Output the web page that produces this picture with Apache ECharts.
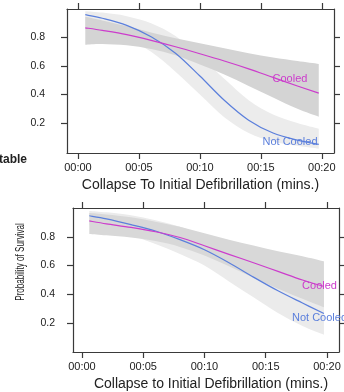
<!DOCTYPE html>
<html>
<head>
<meta charset="utf-8">
<script src="https://cdn.jsdelivr.net/npm/echarts@6/dist/echarts.min.js"></script>
<style>
  html, body { margin: 0; padding: 0; background: #fff; }
  #chart { width: 344px; height: 392px; }
</style>
</head>
<body>
<div id="chart"></div>
<script>
// minutes from collapse to first shock, shared by both panels
const minutes = [0.6, 2, 4, 6, 8, 10, 12, 14, 16, 18, 19.75];
const xTickValues = [0, 5, 10, 15, 20];
const xTickLabels = ["00:00", "00:05", "00:10", "00:15", "00:20"];
const yTickValues = [0.2, 0.4, 0.6, 0.8];

// upper panel
const topNotCooled = [0.96, 0.935, 0.885, 0.805, 0.69, 0.53, 0.36, 0.22, 0.13, 0.08, 0.05];
const topNotCooledUpper = [0.985, 0.975, 0.95, 0.9, 0.81, 0.67, 0.51, 0.36, 0.26, 0.2, 0.16];
const topNotCooledLower = [0.86, 0.84, 0.79, 0.7, 0.56, 0.4, 0.24, 0.13, 0.07, 0.04, 0.02];
const topCooled = [0.868, 0.85, 0.82, 0.78, 0.735, 0.686, 0.635, 0.58, 0.52, 0.46, 0.41];
const topCooledUpper = [0.945, 0.92, 0.88, 0.835, 0.795, 0.76, 0.725, 0.69, 0.66, 0.635, 0.615];
const topCooledLower = [0.75, 0.755, 0.745, 0.72, 0.675, 0.61, 0.54, 0.46, 0.38, 0.3, 0.245];

// lower panel
const botNotCooled = [0.946, 0.925, 0.885, 0.84, 0.78, 0.71, 0.62, 0.52, 0.425, 0.34, 0.267];
const botNotCooledUpper = [0.98, 0.97, 0.95, 0.915, 0.87, 0.81, 0.73, 0.64, 0.56, 0.49, 0.44];
const botNotCooledLower = [0.88, 0.86, 0.81, 0.75, 0.68, 0.6, 0.49, 0.38, 0.27, 0.18, 0.12];
const botCooled = [0.91, 0.89, 0.865, 0.835, 0.795, 0.738, 0.678, 0.62, 0.56, 0.5, 0.455];
const botCooledUpper = [0.965, 0.955, 0.935, 0.905, 0.87, 0.825, 0.78, 0.74, 0.7, 0.665, 0.63];
const botCooledLower = [0.82, 0.81, 0.795, 0.77, 0.73, 0.67, 0.595, 0.515, 0.44, 0.37, 0.31];

const FONT = "Liberation Sans, Arial, Helvetica, sans-serif";
const FRAME = "#3a3a3a";
const BLUE = "#5b7fdc";
const PINK = "#cc3ccc";

const pairs = (ys) => ys.map((y, i) => [minutes[i], y]);

// catmull-rom through screen points -> svg path segments
function smoothSeg(p) {
  let d = "";
  for (let i = 0; i < p.length - 1; i++) {
    const p0 = p[Math.max(i - 1, 0)], p1 = p[i], p2 = p[i + 1], p3 = p[Math.min(i + 2, p.length - 1)];
    const c1 = [p1[0] + (p2[0] - p0[0]) / 6, p1[1] + (p2[1] - p0[1]) / 6];
    const c2 = [p2[0] - (p3[0] - p1[0]) / 6, p2[1] - (p3[1] - p1[1]) / 6];
    d += "C" + c1[0] + "," + c1[1] + " " + c2[0] + "," + c2[1] + " " + p2[0] + "," + p2[1];
  }
  return d;
}

function band(idx, upper, lower, color) {
  return {
    type: "custom", xAxisIndex: idx * 2, yAxisIndex: idx * 2,
    data: [[minutes[0], upper[0]]], silent: true, clip: true,
    renderItem: (params, api) => {
      const up = upper.map((v, i) => api.coord([minutes[i], v]));
      const lo = lower.map((v, i) => api.coord([minutes[i], v])).reverse();
      const d = "M" + up[0][0] + "," + up[0][1] + smoothSeg(up) +
        "L" + lo[0][0] + "," + lo[0][1] + smoothSeg(lo) + "Z";
      return { type: "path", shape: { pathData: d }, style: { fill: color } };
    },
  };
}

// mean curve drawn on the same spline as the bands
function curve(idx, ys, color, labels) {
  return {
    type: "custom", xAxisIndex: idx * 2, yAxisIndex: idx * 2,
    data: [[minutes[0], ys[0]]], silent: true, clip: true,
    renderItem: (params, api) => {
      const p = ys.map((v, i) => api.coord([minutes[i], v]));
      return {
        type: "path", shape: { pathData: "M" + p[0][0] + "," + p[0][1] + smoothSeg(p) },
        style: { fill: null, stroke: color, lineWidth: 1.2 },
      };
    },
    markPoint: {
      symbol: "circle", symbolSize: 0, silent: true,
      label: { show: true, position: "inside", color: color, fontSize: 11, fontFamily: FONT },
      data: labels,
    },
  };
}

function xAxes(idx, min, max, title, gap, shift) {
  const base = {
    gridIndex: idx, type: "value", min: min, max: max,
    axisLine: { show: true, onZero: false, lineStyle: { color: FRAME, width: 1.2 } },
    axisTick: { show: true, length: 6, customValues: xTickValues, lineStyle: { color: FRAME, width: 1.2 } },
    splitLine: { show: false },
  };
  return [
    Object.assign({}, base, {
      position: "bottom",
      axisLabel: {
        customValues: xTickValues, margin: 9, fontSize: 11, color: "#222", fontFamily: FONT,
        formatter: (v) => xTickLabels[xTickValues.indexOf(Math.round(v))],
      },
      name: title, nameLocation: "middle", nameGap: gap,
      nameTextStyle: { fontSize: 14, color: "#222", fontFamily: FONT, padding: [0, 0, 0, shift] },
    }),
    Object.assign({}, base, { position: "top", axisLabel: { show: false } }),
  ];
}

function yAxes(idx, min, margin) {
  const base = {
    gridIndex: idx, type: "value", min: min, max: 1,
    axisLine: { show: true, onZero: false, lineStyle: { color: FRAME, width: 1.2 } },
    axisTick: { show: true, length: 6, customValues: yTickValues, lineStyle: { color: FRAME, width: 1.2 } },
    splitLine: { show: false },
  };
  return [
    Object.assign({}, base, {
      position: "left",
      axisLabel: { customValues: yTickValues, margin: margin, fontSize: 10.5, color: "#222", fontFamily: FONT,
        formatter: (v) => v.toFixed(1) },
    }),
    Object.assign({}, base, { position: "right", axisLabel: { show: false } }),
  ];
}

const chart = echarts.init(document.getElementById("chart"), null, { renderer: "canvas" });
chart.setOption({
  animation: false,
  backgroundColor: "#fff",
  grid: [
    { left: 67, top: 9, width: 267, height: 144 },
    { left: 73, top: 208, width: 266, height: 144 },
  ],
  xAxis: [
    ...xAxes(0, -0.9, 21, "Collapse To Initial Defibrillation (mins.)", 25, 0),
    ...xAxes(1, -0.73, 20.98, "Collapse to Initial Defibrillation (mins.)", 25, 10),
  ],
  yAxis: [
    ...yAxes(0, -0.01, 22),
    ...yAxes(1, 0, 18),
  ],
  series: [
    band(0, topNotCooledUpper, topNotCooledLower, "#ececec"),
    band(0, topCooledUpper, topCooledLower, "#d4d4d4"),
    curve(0, topNotCooled, BLUE, [{ coord: [17.39, 0.069], label: { formatter: "Not Cooled" } }]),
    curve(0, topCooled, PINK, [{ coord: [17.39, 0.507], label: { formatter: "Cooled" } }]),
    band(1, botNotCooledUpper, botNotCooledLower, "#ebebeb"),
    band(1, botCooledUpper, botCooledLower, "#d8d8d8"),
    curve(1, botNotCooled, BLUE, [{ coord: [19.39, 0.235], label: { formatter: "Not Cooled" } }]),
    curve(1, botCooled, PINK, [{ coord: [19.39, 0.458], label: { formatter: "Cooled" } }]),
  ],
  graphic: [
    {
      type: "text", left: -1, top: 154,
      style: { text: "table", font: "bold 12px " + FONT, fill: "#222" },
    },
    {
      type: "text", x: 20, y: 262, rotation: Math.PI / 2, scaleX: 0.62,
      style: {
        text: "Probability of Survival", font: "13px " + FONT,
        fill: "#222", align: "center", verticalAlign: "middle",
      },
    },
  ],
});
</script>
</body>
</html>
